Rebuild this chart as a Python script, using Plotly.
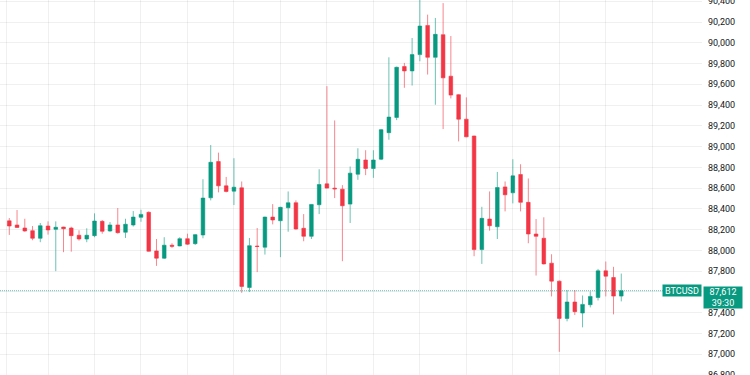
import plotly.graph_objects as go

# ---- data (BTCUSD candles) ----
opens = [88285, 88245, 88216, 88190, 88117, 88235, 88203, 88225, 88216, 88146,
         88110, 88142, 88280, 88187, 88245, 88175, 88245, 88319, 88367, 87995,
         87925, 88050, 88043, 88113, 88065, 88149, 88507, 88856, 88622, 88571,
         88603, 87643, 88042, 88031, 88321, 88286, 88411, 88459, 88213, 88136,
         88440, 88641, 88600, 88590, 88446, 88734, 88871, 88789, 88879, 89134,
         89281, 89771, 89729, 89886, 90167, 89860, 90078, 89678, 89500, 89264,
         89102, 88008, 88302, 88228, 88612, 88555, 88731, 88463, 88158, 88117,
         87877, 87704, 87345, 87503, 87397, 87477, 87547, 87803, 87739, 87560]
highs = [88312, 88389, 88305, 88235, 88264, 88280, 88280, 88228, 88228, 88194,
         88213, 88357, 88293, 88273, 88408, 88305, 88379, 88392, 88376, 88110,
         88127, 88069, 88127, 88161, 88158, 88686, 89015, 88942, 88708, 88888,
         88664, 88120, 88216, 88325, 88446, 88420, 88568, 88482, 88350, 88446,
         88782, 89582, 89252, 88629, 88808, 88984, 88965, 88965, 89170, 89860,
         89770, 89806, 90046, 90430, 90271, 90239, 90382, 90065, 89505, 89474,
         89105, 88420, 88568, 88756, 88664, 88878, 88830, 88693, 88302, 88319,
         87963, 87710, 87618, 87618, 87566, 87605, 87822, 87893, 87842, 87777]
lows = [88149, 88216, 88180, 88098, 88079, 88152, 87800, 87983, 87988, 88094,
        88079, 88127, 88161, 88180, 88161, 88120, 88230, 88276, 87988, 87851,
        87918, 88024, 88040, 88053, 88053, 88117, 88482, 88559, 88559, 88437,
        87592, 87599, 87791, 87960, 88251, 87935, 88180, 88200, 88088, 88110,
        88350, 88597, 88504, 87896, 88264, 88680, 88725, 88699, 88870, 89066,
        89255, 89566, 89588, 89822, 89694, 89403, 89169, 89464, 89050, 89090,
        87944, 87870, 88190, 88110, 88376, 88453, 88376, 88069, 87758, 87865,
        87557, 87023, 87317, 87378, 87259, 87451, 87518, 87557, 87384, 87509]
closes = [88235, 88221, 88187, 88117, 88238, 88197, 88223, 88209, 88142, 88110,
          88146, 88283, 88184, 88245, 88171, 88252, 88321, 88347, 87992, 87925,
          88050, 88040, 88113, 88060, 88152, 88504, 88849, 88622, 88568, 88609,
          87653, 88046, 88038, 88321, 88293, 88415, 88459, 88206, 88136, 88443,
          88635, 88600, 88593, 88430, 88744, 88878, 88789, 88871, 89163, 89284,
          89764, 89729, 89886, 90161, 89860, 90081, 89662, 89496, 89264, 89094,
          88008, 88309, 88238, 88606, 88536, 88718, 88463, 88158, 88136, 87870,
          87704, 87345, 87503, 87410, 87480, 87557, 87803, 87752, 87560, 87612]
candle_index = list(range(len(closes)))

price_ticks = list(range(86800, 90401, 200))
grid_x = [-0.34] + list(range(5, 84, 6))
symbol = "BTCUSD"
countdown = "39:30"

UP = "#089981"
DOWN = "#F23645"
FONT = "Roboto"

fig = go.Figure()
fig.add_trace(go.Candlestick(
    x=candle_index, open=opens, high=highs, low=lows, close=closes,
    increasing=dict(fillcolor=UP, line=dict(color="rgba(8,153,129,0.6)", width=1)),
    decreasing=dict(fillcolor=DOWN, line=dict(color="rgba(242,54,69,0.6)", width=1)),
    whiskerwidth=0, showlegend=False, hoverinfo="skip",
))

last = closes[-1]
fig.add_shape(type="line", xref="paper", x0=0, x1=1, yref="y", y0=last, y1=last,
              line=dict(color="rgba(8,153,129,0.6)", width=1, dash="1px,1px"))

fig.add_annotation(xref="paper", x=1, xanchor="right", yref="y", y=last, yanchor="middle",
                   text=symbol, showarrow=False, bgcolor=UP, borderpad=1,
                   width=36, height=9,
                   font=dict(family=FONT, size=9, color="white"))
fig.add_annotation(xref="paper", x=1.002, xanchor="left", yref="y", y=last, yanchor="top",
                   yshift=5, text=f"{last:,}<br>{countdown}", showarrow=False, align="center",
                   bgcolor=UP, borderpad=1, width=36, height=19,
                   font=dict(family=FONT, size=9, color="white"))

fig.update_layout(
    width=750, height=375,
    margin=dict(l=0, r=48, t=0, b=0, autoexpand=False),
    paper_bgcolor="white", plot_bgcolor="white",
    boxgap=0.33,
    xaxis=dict(range=[-1.2, 89.42], rangeslider=dict(visible=False),
               tickvals=grid_x, showticklabels=False, ticks="",
               showgrid=True, gridcolor="rgba(42,46,57,0.07)", gridwidth=1,
               zeroline=False, showline=False, fixedrange=True, automargin=False),
    yaxis=dict(side="right", range=[86800, 90412], tickvals=price_ticks,
               tickformat=",d", ticks="", ticklabelstandoff=5,
               ticklabeloverflow="allow", automargin=False,
               tickfont=dict(family=FONT, size=9, color="#131722"),
               showgrid=True, gridcolor="rgba(42,46,57,0.07)", gridwidth=1,
               zeroline=False, showline=False, fixedrange=True),
)

fig.write_html("out.html", config=dict(displayModeBar=False),
               post_script="document.body.style.margin='0';document.body.style.overflow='hidden';")
